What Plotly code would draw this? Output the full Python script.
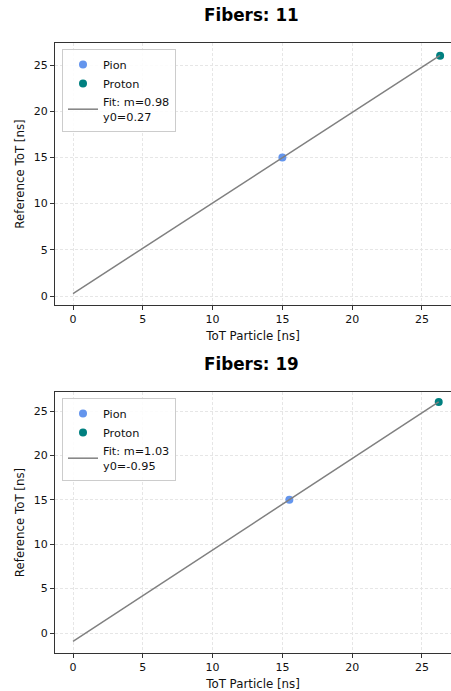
import plotly.graph_objects as go

# Per-panel measurements
fibers = [11, 19]
pion_tot = [15.0, 15.5]
pion_ref = [15.0, 15.0]
proton_tot = [26.3, 26.2]
proton_ref = [26.0, 26.0]
fit_m = [0.98, 1.03]
fit_y0 = [0.27, -0.95]
tick_vals = [0, 5, 10, 15, 20, 25]

FONT = "DejaVu Sans"
AXIS_COLOR = "#333333"
GRID_COLOR = "#e6e6e6"
TEXT_COLOR = "#111111"

fig = go.Figure()

x_domain = [55 / 451, 1.0]
y_domains = [[(691 - 305) / 691, (691 - 43) / 691],
             [(691 - 653) / 691, (691 - 392) / 691]]
x_ranges = [[-1.29, 27.08], [-1.29, 27.08]]
y_ranges = [[-0.97, 27.38], [-2.25, 27.14]]
legend_names = ["legend", "legend2"]
legend_tops = [(691 - 49) / 691, (691 - 398) / 691]

for i in range(2):
    xa = "x" if i == 0 else "x2"
    ya = "y" if i == 0 else "y2"
    lg = legend_names[i]
    fig.add_trace(go.Scatter(
        x=[pion_tot[i]], y=[pion_ref[i]], mode="markers", name="Pion",
        marker=dict(color="#6495ED", size=8), xaxis=xa, yaxis=ya, legend=lg))
    fig.add_trace(go.Scatter(
        x=[proton_tot[i]], y=[proton_ref[i]], mode="markers", name="Proton",
        marker=dict(color="#008080", size=8), xaxis=xa, yaxis=ya, legend=lg))
    x_end = max(pion_tot[i], proton_tot[i])
    fig.add_trace(go.Scatter(
        x=[0, x_end], y=[fit_y0[i], fit_m[i] * x_end + fit_y0[i]],
        mode="lines", name=f"Fit: m={fit_m[i]:.2f}<br>y0={fit_y0[i]:.2f}",
        line=dict(color="#808080", width=1.5), xaxis=xa, yaxis=ya, legend=lg))

axis_common = dict(
    showline=True, linecolor=AXIS_COLOR, linewidth=1,
    ticks="outside", ticklen=4, tickcolor=AXIS_COLOR, tickwidth=1,
    showgrid=True, gridcolor=GRID_COLOR, griddash="3px,2px", gridwidth=1,
    zeroline=False, tickvals=tick_vals,
    tickfont=dict(family=FONT, size=11, color=TEXT_COLOR),
)

layout = dict(
    width=451, height=691,
    margin=dict(l=0, r=0, t=0, b=0),
    paper_bgcolor="white", plot_bgcolor="white",
    font=dict(family=FONT, color=TEXT_COLOR),
    showlegend=True,
)

for i in range(2):
    sfx = "" if i == 0 else "2"
    layout["xaxis" + sfx] = dict(
        axis_common, domain=x_domain, range=x_ranges[i], mirror=True,
        anchor="y" + sfx,
        title=dict(text="ToT Particle [ns]", standoff=6,
                   font=dict(family=FONT, size=11.8, color=TEXT_COLOR)))
    layout["yaxis" + sfx] = dict(
        axis_common, domain=y_domains[i], range=y_ranges[i],
        anchor="x" + sfx,
        title=dict(text="Reference ToT [ns]", standoff=6,
                   font=dict(family=FONT, size=11.8, color=TEXT_COLOR)))
    layout[legend_names[i]] = dict(
        x=62 / 451, y=legend_tops[i], xanchor="left", yanchor="top",
        bgcolor="rgba(255,255,255,0.85)", bordercolor="#cccccc", borderwidth=1,
        font=dict(family=FONT, size=11.3, color=TEXT_COLOR),
        tracegroupgap=0, itemwidth=30)

fig.update_layout(**layout)

titles = [f"Fibers: {n}" for n in fibers]
title_y = [1 - 15 / 691, 1 - 364 / 691]
for t, yy in zip(titles, title_y):
    fig.add_annotation(text=f"<b>{t}</b>", x=252 / 451, y=yy, xref="paper", yref="paper",
                       showarrow=False, xanchor="center", yanchor="middle",
                       font=dict(family=FONT, size=16.8, color="#000000"))

fig.write_html("out.html")
